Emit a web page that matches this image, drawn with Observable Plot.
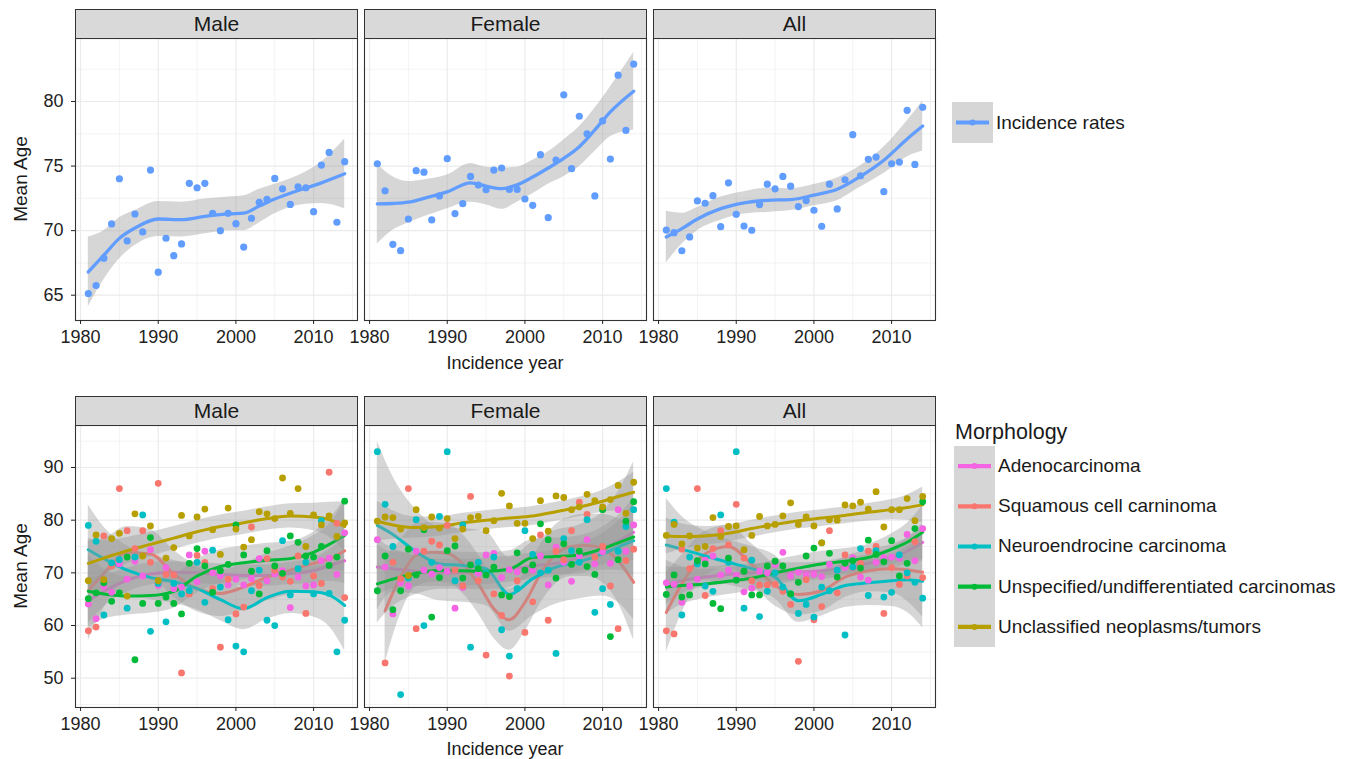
<!DOCTYPE html>
<html><head><meta charset="utf-8">
<script src="https://cdn.jsdelivr.net/npm/d3@7"></script>
<script src="https://cdn.jsdelivr.net/npm/@observablehq/plot@0.6"></script>
<style>
body{margin:0;background:#fff;font-family:"Liberation Sans",Arial,Helvetica,sans-serif;}
#root{position:relative;width:1354px;height:759px;overflow:hidden;background:#fff;}
.strip{position:absolute;box-sizing:border-box;background:#D9D9D9;border:1px solid #333;font-size:21px;color:#1a1a1a;text-align:center;}
.lab{position:absolute;white-space:nowrap;color:#1a1a1a;}
</style></head><body><div id="root"></div>
<script>
// ---------- data ----------
const years = [1981,1982,1983,1984,1985,1986,1987,1988,1989,1990,1991,1992,1993,1994,1995,1996,1997,1998,1999,2000,2001,2002,2003,2004,2005,2006,2007,2008,2009,2010,2011,2012,2013,2014];
const panels = ["Male", "Female", "All"];
const incLabel = "Incidence rates";
const incColor = "#619CFF";
const morphs = ["Adenocarcinoma", "Squamous cell carninoma", "Neuroendrocine carcinoma", "Unspecified/undifferentiated carcinomas", "Unclassified neoplasms/tumors"];
const morphColors = ["#F564E3", "#F8766D", "#00BFC4", "#00BA38", "#B79F00"];
const xTicks = [1980, 1990, 2000, 2010];
const xMinor = [1985, 1995, 2005, 2015];
const topYTicks = [65, 70, 75, 80];
const topYMinor = [67.5, 72.5, 77.5, 82.5];
const botYTicks = [50, 60, 70, 80, 90];
const botYMinor = [45, 55, 65, 75, 85, 95];

// top row: incidence mean age
const incMale = [65.13,65.75,67.87,70.52,74.02,69.2,71.29,69.9,74.69,66.78,69.41,68.06,68.97,73.66,73.32,73.66,71.34,70.0,71.34,70.54,68.73,70.96,72.2,72.42,74.04,73.24,72.03,73.4,73.32,71.47,75.08,76.06,70.65,75.34];
const incFemale = [75.18,73.09,68.94,68.45,70.9,74.64,74.53,70.83,72.69,75.57,71.32,72.09,74.2,73.53,73.17,74.69,74.85,73.19,73.19,72.45,71.96,75.88,71.0,75.47,80.52,74.8,78.86,77.5,72.69,78.5,75.54,82.04,77.76,82.9];
const incAll = [70.05,69.84,68.44,69.51,72.3,72.12,72.71,70.31,73.7,71.27,70.36,70.03,72.02,73.6,73.24,74.2,73.44,71.86,72.33,71.58,70.34,73.6,71.68,73.94,77.43,74.25,75.52,75.7,73.02,75.18,75.31,79.32,75.13,79.55];
// top row smooth
const incMaleKnots = [1981,1983,1985,1987,1990,1993,1996,1999,2001,2003,2005,2007,2009,2011,2014];
const incMaleFit = [66.8,68.1,69.4,70.2,70.9,70.85,71.1,71.3,71.35,71.9,72.45,72.9,73.3,73.7,74.4];
const incMaleCi = [2.7,1.9,1.6,1.35,1.35,1.35,1.35,1.3,1.35,1.3,1.15,1.1,1.25,1.6,2.7];
const incFemaleKnots = [1981,1983,1985,1987,1990,1993,1995,1997,1999,2001,2003,2005,2007,2009,2011,2014];
const incFemaleFit = [72.07,72.1,72.2,72.5,73.0,73.7,73.45,73.25,73.55,74.15,74.85,75.6,76.5,77.8,79.2,80.8];
const incFemaleCi = [3.1,2.07,1.6,1.43,1.3,1.5,1.45,1.6,1.36,1.3,1.25,1.42,1.54,1.67,1.93,3.0];
const incAllKnots = [1981,1983,1985,1988,1991,1994,1997,2000,2003,2006,2009,2012,2014];
const incAllFit = [69.5,70.15,70.9,71.7,72.15,72.35,72.4,72.75,73.2,74.2,75.45,77.1,78.1];
const incAllCi = [2.0,1.2,0.9,0.9,0.87,0.94,0.85,0.82,0.88,0.82,1.03,1.4,1.94];

// bottom row points, order of morphs
const maleAdeno = [64.1,61.3,67.4,66.3,71.7,68.8,72.2,69.4,74.4,67.6,71.0,67.0,67.3,73.4,68.3,74.1,70.0,69.4,67.7,68.8,67.7,68.9,72.7,68.5,69.8,70.4,63.4,69.2,67.5,67.7,72.3,72.8,69.7,77.6];
const maleSquam = [59.0,59.7,77.0,71.3,86.0,78.0,74.6,78.0,72.0,87.0,69.7,69.6,51.0,66.0,73.3,72.0,67.0,55.9,68.8,62.2,63.5,78.7,67.6,72.7,70.5,69.2,68.4,73.2,62.3,69.4,68.0,89.1,79.4,65.3];
const maleNeuro = [79.0,76.0,62.0,71.9,72.5,63.3,73.0,81.0,58.9,68.0,60.7,68.0,66.0,66.6,72.0,64.4,74.3,67.3,61.1,56.1,55.0,66.6,70.5,61.0,60.0,76.1,65.8,70.8,72.0,66.0,79.9,66.1,55.0,61.0];
const maleUnspec = [65.1,66.2,68.1,64.6,66.2,73.0,53.5,64.2,76.7,64.2,65.4,64.2,62.2,71.8,74.6,71.3,66.3,70.4,71.6,79.1,73.4,70.3,66.0,74.2,71.3,69.9,77.0,75.8,73.2,73.0,75.0,71.4,73.0,83.6];
const maleUnclass = [68.5,77.2,68.7,76.5,77.5,65.6,81.2,73.2,78.9,68.5,72.8,74.8,80.9,77.0,80.6,82.1,78.2,73.5,82.3,78.3,74.9,76.3,81.6,81.2,80.3,88.0,81.3,86.0,75.0,81.0,79.1,80.8,76.9,79.5];

const femaleAdeno = [76.3,71.1,62.2,68.1,67.5,74.1,70.5,69.8,71.0,70.3,63.3,67.2,71.5,69.9,73.4,73.7,69.1,70.6,70.2,70.5,70.5,73.2,67.7,74.9,72.0,68.4,73.2,76.3,71.7,74.0,71.8,82.0,74.1,79.1];
const femaleSquam = [null,52.9,72.0,68.9,86.0,59.4,74.1,76.0,75.3,79.0,70.5,67.5,84.5,68.5,54.4,66.0,61.9,50.4,68.5,58.7,64.5,77.2,61.0,74.1,72.5,78.0,83.4,81.1,73.0,75.0,67.5,59.4,72.3,74.5];
const femaleNeuro = [93.0,83.0,75.0,46.9,69.0,80.1,60.0,72.0,80.7,93.0,68.5,79.1,55.9,72.0,70.0,73.0,59.2,54.2,67.0,78.0,73.5,70.0,70.5,54.7,76.5,74.2,72.0,80.1,62.5,67.0,64.0,74.1,78.8,82.0];
const femaleUnspec = [66.6,73.2,63.0,66.6,74.5,69.6,78.2,61.6,69.1,74.2,75.1,69.0,71.5,70.8,69.6,71.1,65.8,65.5,73.8,70.5,71.5,79.3,76.3,69.0,75.5,71.6,74.1,71.2,69.7,82.0,57.9,72.5,79.8,83.5];
const femaleUnclass = [79.8,80.6,80.5,78.3,69.5,82.0,78.6,80.6,78.5,80.3,76.5,78.3,80.5,80.7,78.0,79.9,85.1,82.7,79.4,79.4,76.5,83.7,77.9,84.6,84.3,82.0,82.5,84.9,83.7,82.5,83.9,86.6,81.3,87.2];

const allAdeno = [68.1,67.8,64.4,67.5,68.8,72.4,73.2,69.6,70.5,69.5,66.4,67.1,70.3,70.0,71.6,73.9,69.4,70.1,69.5,69.7,69.3,71.6,70.5,71.0,72.9,69.2,68.6,72.0,72.9,73.0,72.8,77.3,72.3,78.4];
const allSquam = [59.0,58.4,74.5,70.8,86.0,65.7,74.6,78.0,75.3,83.0,72.8,68.5,67.7,67.7,67.8,66.5,64.0,53.2,68.7,61.1,63.6,78.0,66.2,73.4,71.0,71.8,74.1,75.0,62.3,71.0,67.8,69.4,75.9,69.1];
const allNeuro = [86.0,79.6,62.0,73.0,71.7,67.5,66.5,81.0,72.0,93.0,63.3,72.4,61.7,66.5,70.0,67.3,66.0,62.3,64.0,61.6,67.3,66.6,70.5,58.2,71.1,74.6,65.7,74.2,65.4,66.3,73.4,70.0,68.2,65.2];
const allUnspec = [65.9,69.6,65.4,65.8,72.3,71.7,64.2,63.2,72.8,68.6,70.3,65.8,65.8,71.3,72.2,71.3,66.0,68.2,73.2,74.7,75.7,73.7,69.2,71.8,72.3,70.9,76.2,73.5,72.1,76.1,69.4,71.8,78.4,83.5];
const allUnclass = [77.1,79.2,75.5,77.0,74.7,75.0,80.5,76.9,78.8,78.9,74.4,77.1,80.7,78.9,79.2,80.8,83.3,79.2,80.6,78.9,75.7,80.1,80.0,82.9,82.7,83.4,82.1,85.4,78.7,82.0,82.0,84.1,79.9,84.5];

// bottom row smooths, order of morphs
const knots = [1981,1983,1986,1989,1992,1995,1998,2001,2004,2007,2010,2012,2014];
const femaleSquamKnots = [1982,1984,1986,1988,1990,1992,1994,1996,1998,2000,2002,2004,2006,2008,2010,2012,2014];
const maleFit = [
  [64.7,66.5,68.6,69.8,70.1,70.0,69.7,69.5,69.5,69.9,70.4,71.4,72.3],
  [66.6,69.9,73.8,73.6,69.8,67.0,66.1,67.3,69.2,70.5,71.8,72.6,74.2],
  [74.4,72.7,70.5,69.1,68.3,67.0,64.9,63.2,65.3,66.5,66.4,65.8,63.8],
  [66.5,66.0,65.6,65.7,66.5,69.4,71.2,71.9,72.4,72.7,73.9,75.4,77.1],
  [71.8,72.8,74.2,75.4,76.6,77.8,78.8,79.5,80.3,80.8,80.6,80.1,78.8]];
const maleCi = [
  [4.3,3.0,2.3,2.1,2.0,2.0,2.0,2.0,2.0,2.1,2.4,3.0,4.3],
  [9.5,6.6,5.0,4.6,4.5,4.4,4.4,4.4,4.5,4.6,5.3,6.6,9.5],
  [8.5,6.0,4.6,4.2,4.1,4.0,4.0,4.0,4.1,4.2,4.8,6.0,8.6],
  [6.8,4.8,3.6,3.3,3.2,3.2,3.2,3.2,3.2,3.3,3.8,4.8,6.8],
  [4.7,3.3,2.5,2.3,2.2,2.2,2.2,2.2,2.2,2.3,2.6,3.3,4.7]];
const femaleFit = [
  [71.1,70.8,70.3,70.0,70.0,70.3,70.7,71.3,71.8,72.9,74.5,76.0,77.7],
  [62.8,69.2,73.3,73.9,73.7,71.7,67.9,63.2,61.1,64.4,69.8,73.6,75.0,75.2,74.6,72.3,68.2],
  [79.0,77.3,74.0,71.7,71.4,70.8,65.9,68.9,71.1,72.1,73.6,74.9,76.1],
  [67.9,68.8,69.9,70.5,70.4,70.3,70.7,72.9,73.1,73.4,74.6,75.7,76.8],
  [79.8,79.1,78.6,78.8,79.5,80.0,80.4,80.8,81.6,82.5,83.6,84.5,85.3]];
const femaleCi = [
  [5.4,3.8,2.9,2.6,2.6,2.5,2.5,2.5,2.6,2.6,3.0,3.8,5.4],
  [10,7,6,5.7,5.6,5.6,5.6,5.6,5.8,5.6,5.6,5.6,5.7,5.9,6.5,8,11],
  [16,11,8,7,7,7,7,7,7,7,8,10.5,15],
  [7.4,5.2,4.0,3.6,3.5,3.5,3.5,3.5,3.5,3.6,4.1,5.2,7.4],
  [3.8,2.7,2.0,1.85,1.8,1.8,1.8,1.8,1.8,1.85,2.1,2.7,3.8]];
const allFit = [
  [67.6,68.5,69.2,69.7,70.0,70.2,70.2,70.4,71.1,71.8,72.8,74.1,75.8],
  [62.5,67.9,73.6,75.0,71.6,67.6,65.9,66.6,69.2,70.4,70.8,70.6,70.1],
  [75.3,74.5,73.2,72.0,70.8,69.2,64.7,65.9,67.6,68.1,68.5,68.7,68.4],
  [67.3,67.6,67.9,68.4,69.0,70.0,70.9,71.7,72.2,72.9,74.5,75.8,77.7],
  [77.0,76.9,77.0,77.5,78.4,79.2,79.9,80.4,80.9,81.5,82.0,82.4,82.9]];
const allCi = [
  [3.6,2.5,1.9,1.75,1.7,1.7,1.7,1.7,1.7,1.75,2.0,2.5,3.6],
  [7.5,5.5,4.3,4.0,3.9,3.9,3.9,3.9,3.9,4.0,4.6,6.0,8.5],
  [8.8,6.2,4.7,4.3,4.2,4.1,4.1,4.1,4.2,4.3,4.9,6.2,8.8],
  [5.1,3.6,2.7,2.5,2.4,2.4,2.4,2.4,2.4,2.5,2.9,3.6,5.1],
  [3.4,2.4,1.8,1.65,1.6,1.6,1.6,1.6,1.6,1.65,1.9,2.4,3.4]];

// ---------- layout ----------
const root = document.getElementById("root");
const FONT = "Liberation Sans, Arial, Helvetica, sans-serif";
const PW = 282, PH = 282;
const panelLeft = [75, 364, 653];
const xDomain = [1979.35, 2015.65];
const topRow = {strip: 9, plot: 38, yDomain: [63.04, 84.88], yTicks: topYTicks, yMinor: topYMinor};
const botRow = {strip: 396, plot: 425, yDomain: [44.44, 97.97], yTicks: botYTicks, yMinor: botYMinor};

function smoothRows(ks, fit, ci) {
  return ks.map((k, i) => ({year: k, fit: fit[i], lo: fit[i] - ci[i], hi: fit[i] + ci[i]}));
}
function pointRows(vals) {
  return years.map((y, i) => ({year: y, v: vals[i]})).filter(d => d.v != null);
}

function addDiv(cls, text, css) {
  const d = document.createElement("div");
  d.className = cls; d.textContent = text;
  Object.assign(d.style, css);
  root.appendChild(d);
  return d;
}

function makePanel(col, row, layers, dots, lw, r) {
  const showY = col === 0;
  const ml = showY ? 70 : 4, mr = 4, mb = 40;
  const marks = [
    Plot.ruleX(xMinor, {stroke: "#EBEBEB", strokeWidth: 0.6}),
    Plot.ruleY(row.yMinor, {stroke: "#EBEBEB", strokeWidth: 0.6}),
    Plot.ruleX(xTicks, {stroke: "#EBEBEB", strokeWidth: 1.2}),
    Plot.ruleY(row.yTicks, {stroke: "#EBEBEB", strokeWidth: 1.2})
  ];
  for (const L of layers) {
    marks.push(Plot.areaY(L.rows, {x: "year", y1: "lo", y2: "hi", fill: "#999999", fillOpacity: 0.4, curve: "monotone-x"}));
    marks.push(Plot.lineY(L.rows, {x: "year", y: "fit", stroke: L.color, strokeWidth: lw, curve: "monotone-x"}));
  }
  for (const D of dots) marks.push(Plot.dot(D.rows, {x: "year", y: "v", fill: D.color, r}));
  marks.push(Plot.frame({stroke: "#333333", strokeWidth: 1.1}));
  marks.push(Plot.axisX(xTicks, {tickSize: 4, tickPadding: 6, fontSize: 18, tickFormat: d => String(d), label: null, color: "#222"}));
  if (showY) marks.push(Plot.axisY(row.yTicks, {tickSize: 4, tickPadding: 8, fontSize: 18, tickFormat: d => String(d), label: null, color: "#222"}));
  const svg = Plot.plot({
    width: ml + PW + mr, height: PH + mb,
    marginLeft: ml, marginRight: mr, marginTop: 0, marginBottom: mb,
    x: {domain: xDomain, axis: null},
    y: {domain: row.yDomain, axis: null},
    style: {fontFamily: FONT, overflow: "visible", background: "transparent", color: "#222"},
    marks
  });
  svg.style.position = "absolute";
  svg.style.left = (panelLeft[col] - ml) + "px";
  svg.style.top = row.plot + "px";
  root.appendChild(svg);
  addDiv("strip", panels[col], {left: panelLeft[col] + "px", top: row.strip + "px", width: (PW + 1) + "px", height: (row.plot - row.strip + 1) + "px", lineHeight: (row.plot - row.strip - 1) + "px"});
}

// top row
const incPts = [incMale, incFemale, incAll];
const incSm = [[incMaleKnots, incMaleFit, incMaleCi], [incFemaleKnots, incFemaleFit, incFemaleCi], [incAllKnots, incAllFit, incAllCi]];
for (let c = 0; c < 3; c++) {
  makePanel(c, topRow,
    [{rows: smoothRows(...incSm[c]), color: incColor}],
    [{rows: pointRows(incPts[c]), color: incColor}], 3.3, 3.6);
}

// bottom row
const botPts = [
  [maleAdeno, maleSquam, maleNeuro, maleUnspec, maleUnclass],
  [femaleAdeno, femaleSquam, femaleNeuro, femaleUnspec, femaleUnclass],
  [allAdeno, allSquam, allNeuro, allUnspec, allUnclass]];
const botFit = [maleFit, femaleFit, allFit];
const botCi = [maleCi, femaleCi, allCi];
for (let c = 0; c < 3; c++) {
  const layers = morphs.map((m, s) => ({
    rows: smoothRows((c === 1 && s === 1) ? femaleSquamKnots : knots, botFit[c][s], botCi[c][s]),
    color: morphColors[s]}));
  const dots = morphs.map((m, s) => ({rows: pointRows(botPts[c][s]), color: morphColors[s]}));
  makePanel(c, botRow, layers, dots, 3.0, 3.4);
}

// axis titles
for (const cy of [179, 566]) {
  addDiv("lab", "Mean Age", {left: "21px", top: cy + "px", fontSize: "19px", transform: "translate(-50%,-50%) rotate(-90deg)"});
}
for (const cy of [363, 749]) {
  addDiv("lab", "Incidence year", {left: "505px", top: cy + "px", fontSize: "18px", transform: "translate(-50%,-50%)"});
}

// legends
function keySvg(x, y, w, h, rows) {
  const ns = "http://www.w3.org/2000/svg";
  const svg = document.createElementNS(ns, "svg");
  svg.setAttribute("width", w); svg.setAttribute("height", h);
  svg.style.position = "absolute"; svg.style.left = x + "px"; svg.style.top = y + "px";
  const bg = document.createElementNS(ns, "rect");
  bg.setAttribute("width", w); bg.setAttribute("height", h); bg.setAttribute("fill", "#D6D6D6");
  svg.appendChild(bg);
  rows.forEach((col, i) => {
    const cy = h / rows.length * (i + 0.5);
    const ln = document.createElementNS(ns, "line");
    ln.setAttribute("x1", 4); ln.setAttribute("x2", w - 4); ln.setAttribute("y1", cy); ln.setAttribute("y2", cy);
    ln.setAttribute("stroke", col); ln.setAttribute("stroke-width", 4.2);
    svg.appendChild(ln);
    const c = document.createElementNS(ns, "circle");
    c.setAttribute("cx", w / 2); c.setAttribute("cy", cy); c.setAttribute("r", 3); c.setAttribute("fill", col);
    svg.appendChild(c);
  });
  root.appendChild(svg);
}
keySvg(952, 102, 41, 41, [incColor]);
addDiv("lab", incLabel, {left: "996px", top: "123px", fontSize: "19px", transform: "translateY(-50%)"});

addDiv("lab", "Morphology", {left: "955px", top: "432px", fontSize: "21.5px", transform: "translateY(-50%)"});
keySvg(954, 446, 41, 201, morphColors);
morphs.forEach((m, i) => {
  addDiv("lab", m, {left: "998px", top: (466 + i * 40.2) + "px", fontSize: "19px", transform: "translateY(-50%)"});
});
</script></body></html>
